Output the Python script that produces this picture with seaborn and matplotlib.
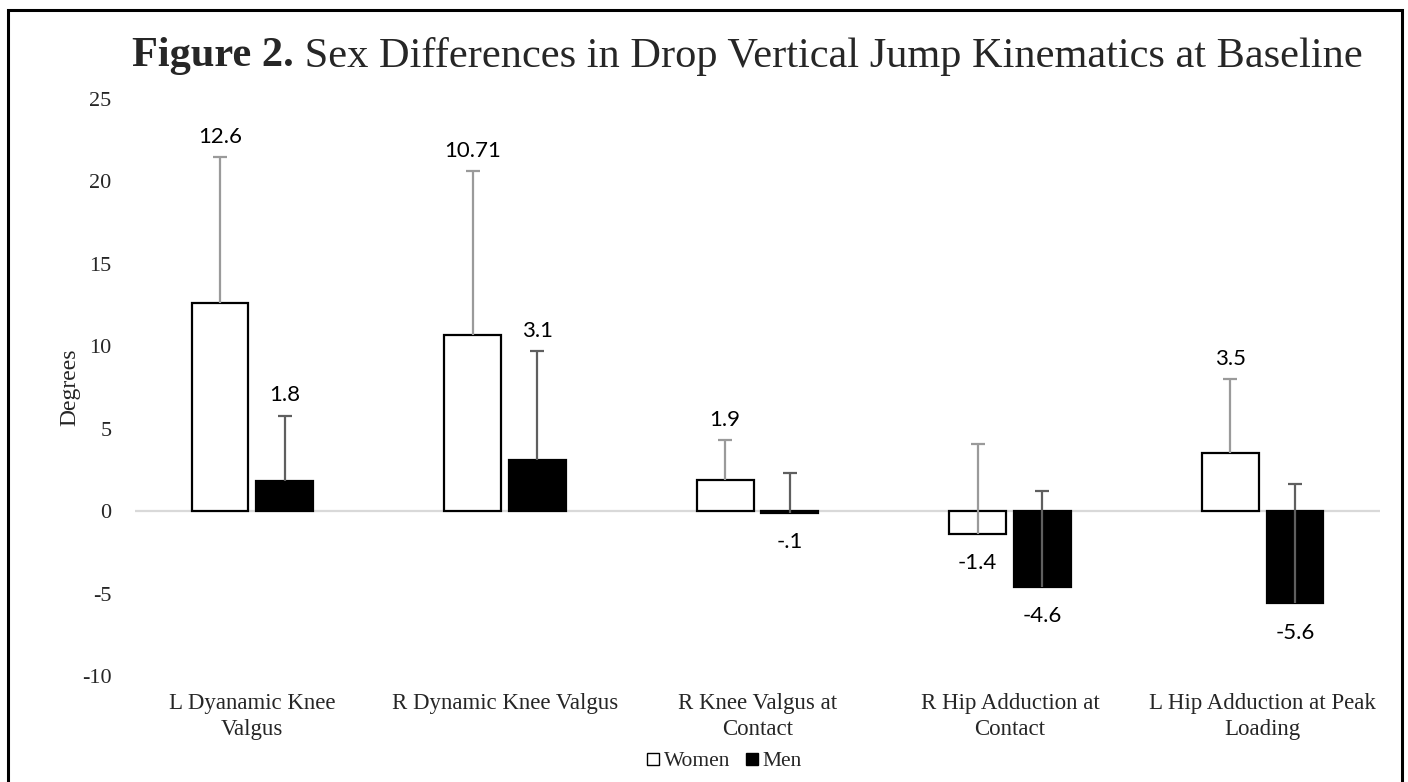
import matplotlib
matplotlib.use("Agg")
import matplotlib.pyplot as plt
from matplotlib.patches import Rectangle
from matplotlib.lines import Line2D
import seaborn as sns
import pandas as pd

categories = ["L Dyanamic Knee\nValgus", "R Dynamic Knee Valgus", "R Knee Valgus at\nContact",
              "R Hip Adduction at\nContact", "L Hip Adduction at Peak\nLoading"]
women = [12.6, 10.71, 1.9, -1.4, 3.5]
men = [1.8, 3.1, -0.1, -4.6, -5.6]
women_sd = [8.9, 9.9, 2.4, 5.5, 4.5]
men_sd = [4.0, 6.6, 2.4, 5.8, 7.25]
women_labels = ["12.6", "10.71", "1.9", "-1.4", "3.5"]
men_labels = ["1.8", "3.1", "-.1", "-4.6", "-5.6"]
series = ["Women", "Men"]
yticks = [-10, -5, 0, 5, 10, 15, 20, 25]

sns.set_theme(style="white")
serif = ["Liberation Serif", "DejaVu Serif"]
sans = ["Lato", "DejaVu Sans"]
plt.rcParams["font.family"] = serif

df = pd.DataFrame({
    "cat": categories * 2,
    "sex": ["Women"] * 5 + ["Men"] * 5,
    "val": women + men,
})

W, H = 1408, 782
fig = plt.figure(figsize=(W / 100, H / 100), dpi=100)
ax = fig.add_axes([135 / W, 1 - 676 / H, (1380 - 135) / W, (676 - 99) / H])

sns.barplot(data=df, x="cat", y="val", hue="sex", hue_order=series, order=categories,
            palette={"Women": "white", "Men": "black"}, saturation=1,
            edgecolor="black", linewidth=1.6, width=0.512, gap=0.12,
            errorbar=None, legend=False, ax=ax, zorder=2)

ax.set_ylim(-10, 25)
ax.set_yticks(yticks)
ax.set_yticklabels([str(t) for t in yticks], fontsize=16, family=serif)
ax.tick_params(axis="both", length=0)
ax.tick_params(axis="y", pad=17)
ax.tick_params(axis="x", pad=12)
for lbl in ax.get_xticklabels():
    lbl.set_fontsize(16.5)
    lbl.set_family(serif)
    lbl.set_linespacing(1.35)
for s in ax.spines.values():
    s.set_visible(False)
ax.set_xlabel("")
ax.set_ylabel("Degrees", fontsize=17, family=serif, labelpad=1)
ax.axhline(0, color="#D9D9D9", lw=1.6, zorder=1)

err_colors = ["#9A9A9A", "#5F5F5F"]
for ci, (vals, sds, labs) in enumerate([(women, women_sd, women_labels), (men, men_sd, men_labels)]):
    cont = ax.containers[ci]
    xs = [b.get_x() + b.get_width() / 2 for b in cont]
    tops = [v + sd for v, sd in zip(vals, sds)]
    ax.vlines(xs, vals, tops, colors=err_colors[ci], lw=1.6, zorder=3)
    ax.scatter(xs, tops, marker="_", s=110, color=err_colors[ci], linewidths=1.6, zorder=3)
    for x, v, top, lab in zip(xs, vals, tops, labs):
        if v >= 0:
            ax.annotate(lab, (x, top), xytext=(0, 14.5), textcoords="offset points",
                        ha="center", va="center", fontsize=16, family=sans, color="black")
        else:
            ax.annotate(lab, (x, v), xytext=(0, -21), textcoords="offset points",
                        ha="center", va="center", fontsize=16, family=sans, color="black")

# legend
handles = [Line2D([], [], marker="s", linestyle="none", markerfacecolor="white",
                  markeredgecolor="black", markeredgewidth=1.0, markersize=9),
           Line2D([], [], marker="s", linestyle="none", markerfacecolor="black",
                  markeredgecolor="black", markersize=9)]
fig.legend(handles, series, loc="center", bbox_to_anchor=(722 / W, 1 - 761 / H), ncol=2,
           frameon=False, prop={"family": serif, "size": 15.5}, handletextpad=0.0,
           columnspacing=0.5, handlelength=1.0)

# title
t1 = fig.text(0.5, 1 - 56 / H, "Figure 2.", fontsize=30.5, fontweight="bold", family=serif,
              ha="left", va="center")
t2 = fig.text(0.5, 1 - 56 / H, " Sex Differences in Drop Vertical Jump Kinematics at Baseline",
              fontsize=30.5, family=serif, ha="left", va="center")
fig.canvas.draw()
r = fig.canvas.get_renderer()
w1 = t1.get_window_extent(r).width
w2 = t2.get_window_extent(r).width
cx = 747
x0 = cx - (w1 + w2) / 2
t1.set_x(x0 / W)
t2.set_x((x0 + w1) / W)

# figure border
fig.add_artist(Rectangle((8 / W, -0.05), (1402 - 8) / W, 1 - 10 / H + 0.05,
                         transform=fig.transFigure, fill=False, edgecolor="black",
                         lw=2.2, clip_on=False))

fig.savefig("out.png", dpi=100)
